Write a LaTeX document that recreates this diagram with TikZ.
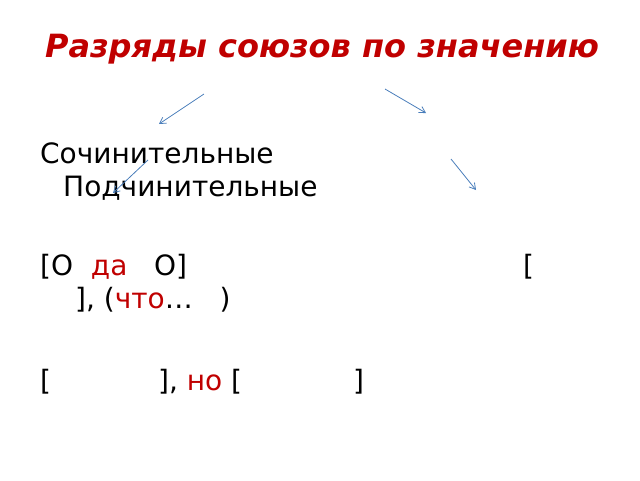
\documentclass[tikz,border=0pt]{standalone}
\usepackage{fontspec}
\setmainfont{DejaVu Sans}
\usetikzlibrary{arrows.meta}
\definecolor{titlered}{HTML}{C00000}
\definecolor{arrowblue}{HTML}{4A7EBB}
\begin{document}
\begin{tikzpicture}[x=1pt,y=-1pt]
\tikzstyle{every node}=[inner sep=0pt,anchor=base west,font=\fontsize{28}{33}\selectfont];
\tikzstyle{pointer}=[draw=arrowblue,line width=0.8pt,-{Straight Barb[length=6pt,width=7pt]}];
\useasboundingbox (0,0) rectangle (640,480);
\node[anchor=base,font=\fontsize{32}{38}\selectfont\bfseries\itshape,text=titlered] (title) at (322,57) {Разряды союзов по значению};
% kinds of conjunctions
\node (coord) at (40,163) {Сочинительные};
\node (subord) at (63,196) {Подчинительные};
% schemes
\node (schemeA) at (40,275) {[O\ \ \textcolor{titlered}{да}\ \ \ O]};
\node (schemeB) at (523,275) {[};
\node (schemeC) at (75,308) {], (\textcolor{titlered}{что}…\ \ \ )};
\node (schemeD) at (40,390) {[\hspace{107pt}], \textcolor{titlered}{но} [\hspace{111pt}]};
% arrows
\coordinate (a1) at (204,94); \coordinate (b1) at (159,124);
\coordinate (a2) at (385,89); \coordinate (b2) at (426,113);
\coordinate (a3) at (148,160); \coordinate (b3) at (113,193);
\coordinate (a4) at (451,159); \coordinate (b4) at (476,190);
\foreach \i in {1,...,4}
  \draw[pointer] (a\i) -- (b\i);
\end{tikzpicture}
\end{document}
